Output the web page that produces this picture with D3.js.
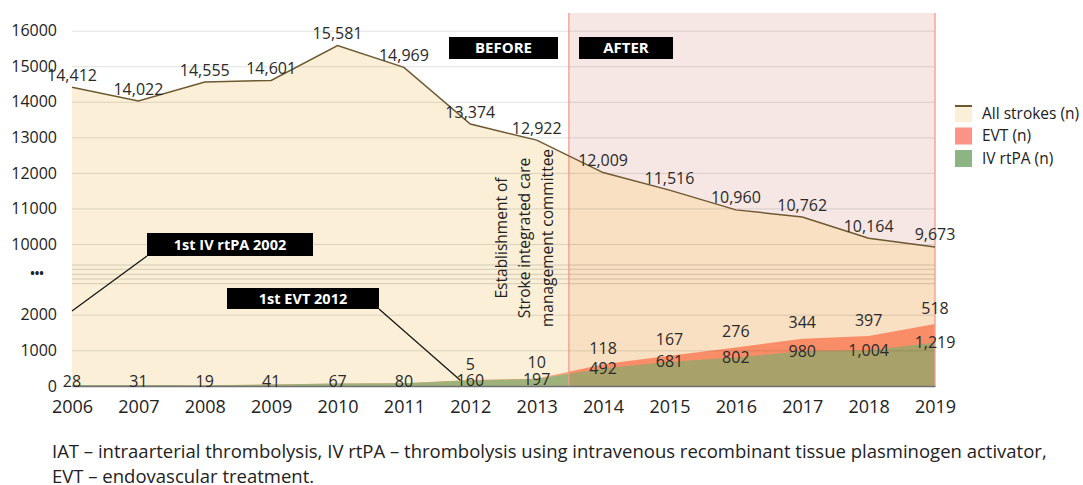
<!DOCTYPE html>
<html>
<head>
<meta charset="utf-8">
<script src="https://cdn.jsdelivr.net/npm/d3@7"></script>
<style>
  body { margin: 0; background: #fff; }
  svg text { font-family: "Open Sans", Lato, sans-serif; }
</style>
</head>
<body>
<div id="chart"></div>
<script>
const years = [2006, 2007, 2008, 2009, 2010, 2011, 2012, 2013, 2014, 2015, 2016, 2017, 2018, 2019];
const allStrokes = [14412, 14022, 14555, 14601, 15581, 14969, 13374, 12922, 12009, 11516, 10960, 10762, 10164, 9673];
const ivRtpa = [28, 31, 19, 41, 67, 80, 160, 197, 492, 681, 802, 980, 1004, 1219];
const evt = [0, 0, 0, 0, 0, 0, 5, 10, 118, 167, 276, 344, 397, 518];
const evtLabels = [null, null, null, null, null, null, 5, 10, 118, 167, 276, 344, 397, 518];
const yTicks = [0, 1000, 2000, 10000, 11000, 12000, 13000, 14000, 15000, 16000];
const legendItems = ["All strokes (n)", "EVT (n)", "IV rtPA (n)"];
const footnote = [
  "IAT – intraarterial thrombolysis, IV rtPA – thrombolysis using intravenous recombinant tissue plasminogen activator,",
  "EVT – endovascular treatment."
];

const W = 1083, H = 485;
const left = 72, right = 935, bottom = 386;

const rows = years.map((y, i) => ({ year: y, all: allStrokes[i], iv: ivRtpa[i], evt: evt[i], evtLabel: evtLabels[i] }));

const x = d3.scalePoint().domain(years).range([left, right]);
// broken axis: 0-2000 and 10000-16000
const yScale = d3.scaleLinear()
  .domain([0, 2000, 10000, 16000])
  .range([bottom, 314.7, 244, 30.7]);

const svg = d3.select("#chart").append("svg")
  .attr("width", W).attr("height", H);

const split = (x(2013) + x(2014)) / 2 - 1;

const defs = svg.append("defs");
defs.append("clipPath").attr("id", "before")
  .append("rect").attr("x", 0).attr("y", 0).attr("width", split).attr("height", H);
defs.append("clipPath").attr("id", "after")
  .append("rect").attr("x", split).attr("y", 0).attr("width", W - split).attr("height", H);

// after background
svg.append("rect")
  .attr("x", split).attr("y", 13)
  .attr("width", right - split).attr("height", bottom - 13)
  .attr("fill", "#f6e7e4");

const areaAll = d3.area().x(d => x(d.year)).y0(yScale(0)).y1(d => yScale(d.all));
const areaEvt = d3.area().x(d => x(d.year)).y0(yScale(0)).y1(d => yScale(d.iv + d.evt));
const areaIv = d3.area().x(d => x(d.year)).y0(yScale(0)).y1(d => yScale(d.iv));

const palettes = {
  before: { all: "#fbf0d7", evt: "#f6a67f", iv: "#9fb27a" },
  after: { all: "#f9e0c2", evt: "#f98d68", iv: "#a8a26a" }
};

Object.keys(palettes).forEach(k => {
  const g = svg.append("g").attr("clip-path", `url(#${k})`);
  g.append("path").datum(rows).attr("d", areaAll).attr("fill", palettes[k].all);
  g.append("path").datum(rows).attr("d", areaEvt).attr("fill", palettes[k].evt);
  g.append("path").datum(rows).attr("d", areaIv).attr("fill", palettes[k].iv);
});

// gridlines
const grid = svg.append("g")
  .attr("transform", `translate(${left},0)`)
  .call(d3.axisLeft(yScale).tickValues(yTicks.filter(t => t > 0)).tickSize(-(right - left)).tickFormat(""));
grid.select(".domain").remove();
grid.selectAll("line").attr("stroke", "#000").attr("stroke-opacity", 0.12);

// axis break lines
[265, 269.3, 274.3, 279, 283.7].forEach(yy => {
  svg.append("line").attr("x1", left).attr("x2", right).attr("y1", yy).attr("y2", yy)
    .attr("stroke", "#000").attr("stroke-opacity", 0.16);
});

// after region borders
svg.append("g").selectAll("line").data([split, right]).join("line")
  .attr("x1", d => d).attr("x2", d => d)
  .attr("y1", 13).attr("y2", bottom)
  .attr("stroke", "#f19a8c").attr("stroke-width", 1.3);

// all strokes line
svg.append("path").datum(rows)
  .attr("d", d3.line().x(d => x(d.year)).y(d => yScale(d.all)))
  .attr("fill", "none").attr("stroke", "#6e5832").attr("stroke-width", 1.5);

// x axis
const xAxis = svg.append("g")
  .attr("transform", `translate(0,${bottom})`)
  .call(d3.axisBottom(x).tickSize(0).tickPadding(14));
xAxis.select(".domain").attr("stroke", "#707070").attr("stroke-width", 1.5);
xAxis.selectAll("text").attr("font-size", 18).attr("fill", "#222").attr("font-family", "'Open Sans', sans-serif");

// y axis
const yAxis = svg.append("g")
  .attr("transform", `translate(${left},0)`)
  .call(d3.axisLeft(yScale).tickValues(yTicks).tickSize(0).tickPadding(15).tickFormat(d3.format("d")));
yAxis.select(".domain").remove();
yAxis.selectAll("text").attr("font-size", 16).attr("fill", "#222").attr("font-family", "'Open Sans', sans-serif");
svg.append("text").attr("x", 37).attr("y", 278).attr("text-anchor", "middle")
  .attr("font-size", 12).attr("font-weight", "bold").attr("fill", "#222").text("•••");

// data labels
const fmt = d3.format(",");
const labelFont = 16;
svg.append("g").selectAll("text").data(rows).join("text")
  .attr("x", d => x(d.year)).attr("y", d => yScale(d.all) - 12)
  .attr("text-anchor", "middle").attr("dy", "0.35em")
  .attr("font-size", labelFont).attr("fill", "#2a2a2a")
  .text(d => fmt(d.all));
svg.append("g").selectAll("text").data(rows).join("text")
  .attr("x", d => x(d.year)).attr("y", d => Math.min(yScale(d.iv), bottom - 5))
  .attr("text-anchor", "middle").attr("dy", "0.35em")
  .attr("font-size", labelFont).attr("fill", "#2a2a2a")
  .text(d => fmt(d.iv));
svg.append("g").selectAll("text").data(rows.filter(d => d.evtLabel !== null)).join("text")
  .attr("x", d => x(d.year)).attr("y", d => yScale(d.iv + d.evt) - 16)
  .attr("text-anchor", "middle").attr("dy", "0.35em")
  .attr("font-size", labelFont).attr("fill", "#2a2a2a")
  .text(d => fmt(d.evtLabel));

// BEFORE / AFTER boxes
function blackBox(x0, y0, w, h, label, size) {
  svg.append("rect").attr("x", x0).attr("y", y0).attr("width", w).attr("height", h).attr("fill", "#000");
  svg.append("text").attr("x", x0 + w / 2).attr("y", y0 + h / 2).attr("dy", "0.36em")
    .attr("text-anchor", "middle").attr("font-size", size).attr("font-weight", "bold")
    .attr("fill", "#fff").text(label);
}
blackBox(449, 37, 109, 22, "BEFORE", 15);
blackBox(579, 37, 94, 22, "AFTER", 15);

// annotations
svg.append("line").attr("x1", x(2006)).attr("y1", 311).attr("x2", 147).attr("y2", 256)
  .attr("stroke", "#111").attr("stroke-width", 1.2);
blackBox(147, 233, 166, 23, "1st IV rtPA 2002", 14.5);
svg.append("line").attr("x1", 379).attr("y1", 309).attr("x2", x(2012) - 10).attr("y2", yScale(160))
  .attr("stroke", "#111").attr("stroke-width", 1.2);
blackBox(227, 288, 152, 21, "1st EVT 2012", 14.5);

// vertical note
const noteLines = ["Establishment of", "Stroke integrated care", "management committee"];
const note = svg.append("text")
  .attr("transform", "translate(507,238) rotate(-90)")
  .attr("text-anchor", "middle").attr("font-size", 15.5).attr("fill", "#222");
noteLines.forEach((t, i) => {
  note.append("tspan").attr("x", 0).attr("y", i * 23).text(t);
});

// legend
const legend = svg.append("g").attr("transform", "translate(955,105)");
const legendFill = ["#fbf0d7", "#fb9486", "#8db584"];
legendItems.forEach((t, i) => {
  const g = legend.append("g").attr("transform", `translate(0,${i * 22.5})`);
  g.append("rect").attr("width", 17).attr("height", 17).attr("fill", legendFill[i]);
  if (i === 0) g.append("rect").attr("width", 17).attr("height", 2).attr("fill", "#6e5832");
  g.append("text").attr("x", 27).attr("y", 8.5).attr("dy", "0.35em")
    .attr("font-size", 15.5).attr("fill", "#222").text(t);
});

// footnote
svg.append("g").selectAll("text").data(footnote).join("text")
  .attr("x", 52).attr("y", (d, i) => 458 + i * 25)
  .attr("font-size", 18.5).attr("fill", "#222").text(d => d);
</script>
</body>
</html>
